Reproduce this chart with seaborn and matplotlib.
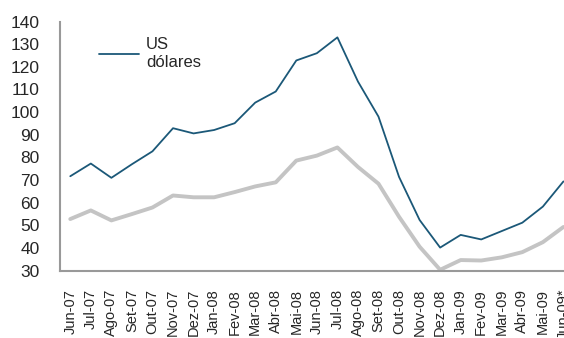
import matplotlib
matplotlib.use("Agg")
import matplotlib.pyplot as plt
import seaborn as sns
import pandas as pd

months = ["Jun-07", "Jul-07", "Ago-07", "Set-07", "Out-07", "Nov-07", "Dez-07",
          "Jan-08", "Fev-08", "Mar-08", "Abr-08", "Mai-08", "Jun-08", "Jul-08",
          "Ago-08", "Set-08", "Out-08", "Nov-08", "Dez-08", "Jan-09", "Fev-09",
          "Mar-09", "Abr-09", "Mai-09", "Jun-09*"]
usd = [71.7, 77.3, 71.0, 77.0, 82.7, 92.9, 90.6, 92.1, 95.1, 104.2, 109.1, 122.8,
       126.0, 133.0, 113.5, 98.0, 71.4, 52.4, 40.2, 45.8, 43.8, 47.5, 51.2, 58.3, 69.4]
other = [52.8, 56.6, 52.2, 55.0, 57.9, 63.2, 62.4, 62.4, 64.7, 67.2, 69.0, 78.6,
         80.8, 84.4, 75.8, 68.4, 53.8, 40.6, 30.4, 34.7, 34.5, 35.9, 38.2, 42.6, 49.3]
yticks = [30, 40, 50, 60, 70, 80, 90, 100, 110, 120, 130, 140]

sns.set_style("white")
plt.rcParams['font.family'] = ['Liberation Sans', 'DejaVu Sans']

df = pd.DataFrame({"mes": months, "usd": usd, "other": other})
df["pos"] = range(len(months))

fig = plt.figure(figsize=(5.64, 3.38), dpi=100)
ax = fig.add_axes([60 / 564, (338 - 270.7) / 338, 513.7 / 564, (270.7 - 21.5) / 338])

sns.lineplot(data=df, x="pos", y="other", ax=ax, color="#c4c4c4", linewidth=2.8,
             label="_nolegend_")
sns.lineplot(data=df, x="pos", y="usd", ax=ax, color="#1b5878", linewidth=1.3,
             label="US\ndólares")

ax.set_xlim(-0.5, len(months) - 0.5)
ax.set_ylim(30, 140)
ax.set_yticks(yticks)
ax.set_yticklabels([str(v) for v in yticks], fontsize=12.5)
ax.set_xticks(range(len(months)))
ax.set_xticklabels(months, rotation=90, fontsize=10.5)
ax.set_xticks([i - 0.5 for i in range(len(months) + 1)], minor=True)
ax.tick_params(axis="x", which="major", length=0, pad=13)
ax.tick_params(axis="x", which="minor", direction="in", length=4, width=1, color="#999999")
ax.tick_params(axis="y", direction="in", length=4, width=1, color="#999999", pad=14.5)
ax.set_xlabel("")
ax.set_ylabel("")
for s in ["top", "right"]:
    ax.spines[s].set_visible(False)
for s in ["left", "bottom"]:
    ax.spines[s].set_color("#999999")
    ax.spines[s].set_linewidth(1.5)

leg = ax.legend(loc="upper left", bbox_to_anchor=(0.06, 0.97), frameon=False,
                fontsize=12, handlelength=2.4, handletextpad=0.4, borderpad=0)

fig.savefig("out.png", dpi=100)
